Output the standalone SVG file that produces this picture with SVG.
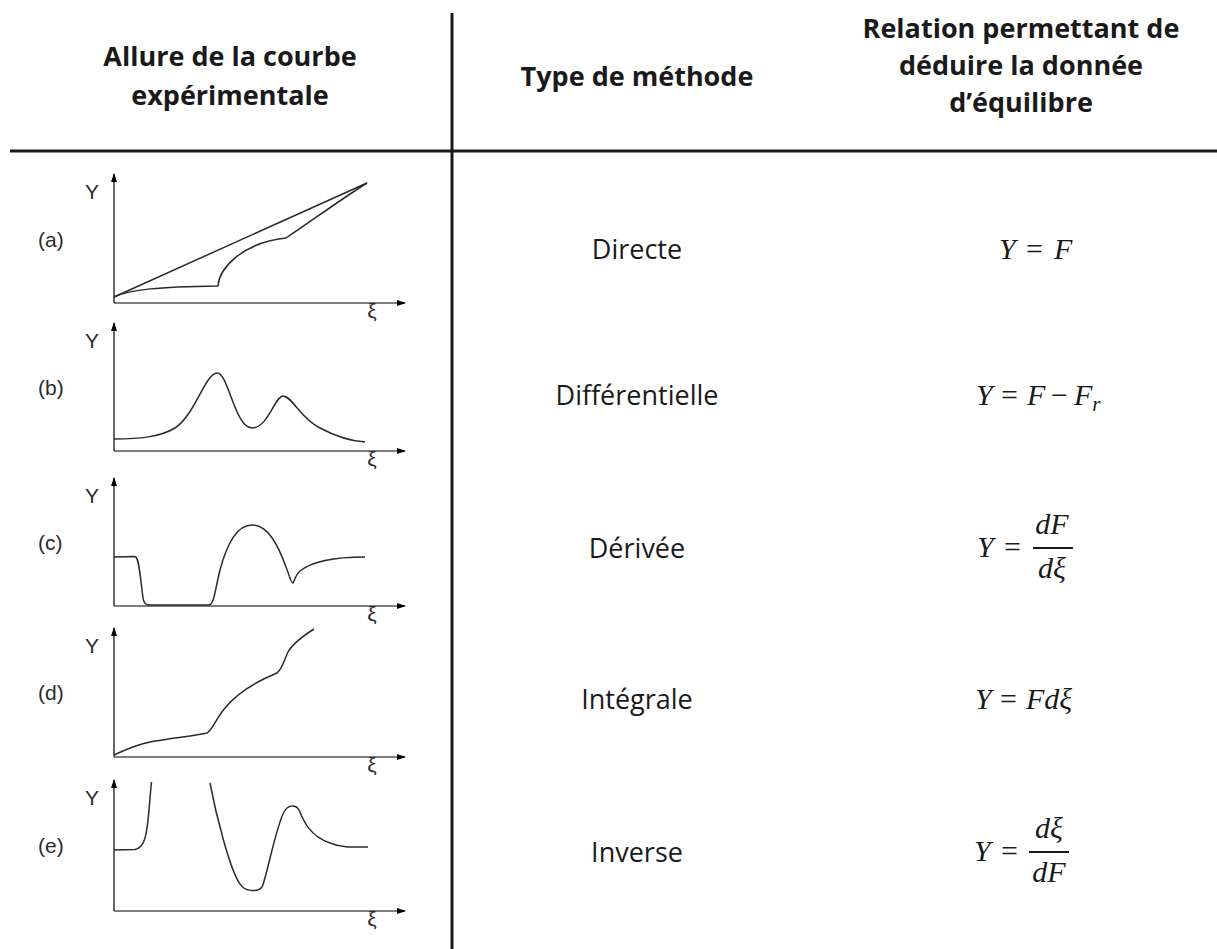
<svg xmlns="http://www.w3.org/2000/svg" width="1217" height="949" viewBox="0 0 1217 949">
<style>
.hd{font-family:"Open Sans","Liberation Sans",sans-serif;font-weight:bold;font-size:27px;fill:#1a1a1a;text-anchor:middle}
.tx{font-family:"Open Sans","Liberation Sans",sans-serif;font-size:27px;fill:#1a1a1a;text-anchor:middle}
.fm{font-family:"Liberation Serif","DejaVu Serif",serif;font-style:italic;font-size:30px;fill:#1a1a1a}
.up{font-style:normal}
.lb{font-family:"Liberation Sans",Arial,sans-serif;font-size:21px;fill:#2b2b2b}
.xi{font-family:"Liberation Sans",Arial,sans-serif;font-size:21px;fill:#2b2b2b;text-anchor:middle}
.ax{stroke:#000;stroke-width:1.2;fill:none}
.cv{stroke:#2a2a2a;stroke-width:1.5;fill:none;stroke-linejoin:round}
.rule{stroke:#1a1a1a;stroke-width:3;fill:none}
.fr{stroke:#1a1a1a;stroke-width:2}
</style>
<defs>
<marker id="ah" markerUnits="userSpaceOnUse" markerWidth="9" markerHeight="6" refX="8" refY="3" orient="auto">
<path d="M0,0 L9,3 L0,6 Z" fill="#000"/>
</marker>
</defs>
<rect width="1217" height="949" fill="#fff"/>

<g id="table-lines">
<line class="rule" x1="10" y1="151" x2="1217" y2="151"/>
<line class="rule" x1="452" y1="13" x2="452" y2="949"/>
</g>

<g id="header">
<text class="hd" x="230" y="66">Allure de la courbe</text>
<text class="hd" x="230" y="105">expérimentale</text>
<text class="hd" x="637" y="86">Type de méthode</text>
<text class="hd" x="1021" y="38">Relation permettant de</text>
<text class="hd" x="1021" y="75">déduire la donnée</text>
<text class="hd" x="1021" y="112">d’équilibre</text>
</g>

<g id="plot-a">
<path class="ax" d="M114,303 L114,174" marker-end="url(#ah)"/>
<path class="ax" d="M114,303 L405,303" marker-end="url(#ah)"/>
<text class="lb" x="85" y="199">Y</text>
<text class="lb" x="38" y="247">(a)</text>
<text class="xi" x="372" y="318">ξ</text>
<path class="cv" d="M114,297 L367,183"/>
<path class="cv" d="M114,297 C130,289 160,287 218,286 C219,270 240,243 286,238 C310,222 340,200 367,183"/>
</g>

<g id="plot-b">
<path class="ax" d="M114,451 L114,323" marker-end="url(#ah)"/>
<path class="ax" d="M114,451 L405,451" marker-end="url(#ah)"/>
<text class="lb" x="85" y="348">Y</text>
<text class="lb" x="38" y="395">(b)</text>
<text class="xi" x="372" y="466">ξ</text>
<path class="cv" d="M114,439 C140,439 160,437 175,428 C195,415 205,374 217,373 C228,372 235,428 252,428 C268,428 275,396 283,396 C292,396 300,418 320,428 C335,436 350,441 365,442"/>
</g>

<g id="plot-c">
<path class="ax" d="M114,606 L114,478" marker-end="url(#ah)"/>
<path class="ax" d="M114,606 L405,606" marker-end="url(#ah)"/>
<text class="lb" x="85" y="503">Y</text>
<text class="lb" x="38" y="550">(c)</text>
<text class="xi" x="372" y="621">ξ</text>
<path class="cv" d="M114,557 L135,556.5 C139,557 140,575 143,598 C144,604 146,605 150,605 L209,605 C214,605 215,590 220,570 C228,540 238,525 252,525 C268,525 278,545 286,567 C290,577 291,583 293,583 C294,583 295,575 300,571 C310,563 330,557 365,557"/>
</g>

<g id="plot-d">
<path class="ax" d="M114,757 L114,628" marker-end="url(#ah)"/>
<path class="ax" d="M114,757 L405,757" marker-end="url(#ah)"/>
<text class="lb" x="85" y="653">Y</text>
<text class="lb" x="38" y="700">(d)</text>
<text class="xi" x="372" y="772">ξ</text>
<path class="cv" d="M114,755 C125,750 135,745 150,742 C170,738 195,736 207,733 C212,731 215,720 225,708 C238,692 255,682 277,673 C283,668 284,660 288,652 C293,643 303,636 314,629"/>
</g>

<g id="plot-e">
<path class="ax" d="M114,911 L114,780" marker-end="url(#ah)"/>
<path class="ax" d="M114,911 L405,911" marker-end="url(#ah)"/>
<text class="lb" x="85" y="805">Y</text>
<text class="lb" x="38" y="853">(e)</text>
<text class="xi" x="372" y="926">ξ</text>
<path class="cv" d="M114,850 L135,849.5 C142,848 145,842 147,828 C149,815 150,795 151.5,782"/>
<path class="cv" d="M210,783 C216,815 230,870 240,884 C244,891 257,893 262,887 C266,880 276,826 284,812 C287,806 295,803 299,810 C304,822 310,836 330,843 C342,848 355,847 368,847"/>
</g>

<g id="method">
<text class="tx" x="637" y="259">Directe</text>
<text class="tx" x="637" y="405">Différentielle</text>
<text class="tx" x="637" y="558">Dérivée</text>
<text class="tx" x="637" y="709">Intégrale</text>
<text class="tx" x="637" y="862">Inverse</text>
</g>

<g id="relation">
<text class="fm" x="999" y="259">Y</text>
<text class="fm up" x="1026" y="259">=</text>
<text class="fm" x="1054" y="259">F</text>

<text class="fm" x="976" y="405">Y</text>
<text class="fm up" x="1001" y="405">=</text>
<text class="fm" x="1027" y="405">F</text>
<text class="fm up" x="1051" y="405">−</text>
<text class="fm" x="1074" y="405">F<tspan font-size="21" dy="6">r</tspan></text>

<text class="fm" x="977" y="557">Y</text>
<text class="fm up" x="1004" y="557">=</text>
<line class="fr" x1="1033" y1="548" x2="1073" y2="548"/>
<text class="fm" x="1052" y="534" text-anchor="middle">dF</text>
<text class="fm" x="1052" y="578" text-anchor="middle">dξ</text>

<text class="fm" x="975" y="709">Y</text>
<text class="fm up" x="1000" y="709">=</text>
<text class="fm" x="1026" y="709">Fdξ</text>

<text class="fm" x="974" y="861">Y</text>
<text class="fm up" x="1001" y="861">=</text>
<line class="fr" x1="1029" y1="852" x2="1069" y2="852"/>
<text class="fm" x="1049" y="838" text-anchor="middle">dξ</text>
<text class="fm" x="1049" y="882" text-anchor="middle">dF</text>
</g>
</svg>
